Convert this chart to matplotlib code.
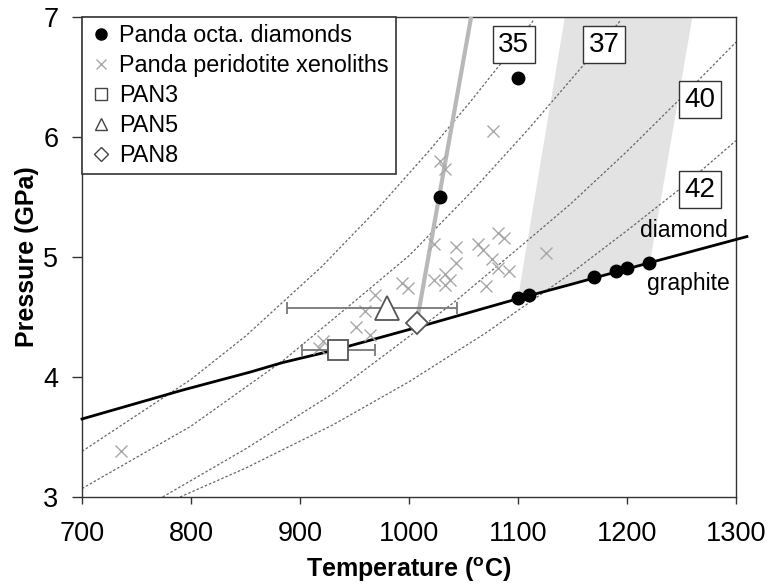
import numpy as np
import matplotlib
matplotlib.use('Agg')
import matplotlib.pyplot as plt
from matplotlib.lines import Line2D

plt.rcParams['font.family'] = ['Liberation Sans', 'DejaVu Sans']
plt.rcParams['mathtext.fontset'] = 'custom'
plt.rcParams['mathtext.rm'] = 'Liberation Sans'
plt.rcParams['mathtext.bf'] = 'Liberation Sans:bold'

# ---------------- data ----------------
diamond_T = [1100, 1028, 1100, 1110, 1170, 1190, 1200, 1220]
diamond_P = [6.49, 5.50, 4.66, 4.68, 4.83, 4.88, 4.91, 4.95]

xeno_T = [1028, 1033, 1077, 1023, 1043, 1043, 1063, 1068, 1082, 1087, 1076, 1082,
          1092, 1126, 1033, 1038, 1033, 1023, 1071, 994, 999, 969, 960, 951, 964,
          921, 917, 736]
xeno_P = [5.80, 5.73, 6.05, 5.11, 5.08, 4.95, 5.11, 5.06, 5.20, 5.16, 4.98, 4.91,
          4.88, 5.03, 4.86, 4.81, 4.77, 4.81, 4.76, 4.78, 4.74, 4.68, 4.55, 4.42,
          4.35, 4.30, 4.24, 3.38]

pan_names = ['PAN3', 'PAN5', 'PAN8']
pan_T = [935, 980, 1007]
pan_P = [4.225, 4.575, 4.45]
pan_err_lo = [33, 92, 0]
pan_err_hi = [34, 64, 0]

dg_T = [700, 792, 854, 884, 930, 1010, 1099, 1148, 1220, 1310]
dg_P = [3.65, 3.89, 4.04, 4.12, 4.22, 4.42, 4.65, 4.77, 4.95, 5.17]

trend_T = [1007, 1057]
trend_P = [4.45, 7.0]

band_T = [1100, 1143, 1260, 1221]
band_P = [4.66, 7.0, 7.0, 4.95]

geo_names = ['35', '37', '40', '42']
geo35_T = [700, 800, 850, 920, 970, 1019, 1056, 1085, 1114]
geo35_P = [3.38, 3.98, 4.34, 4.92, 5.39, 5.89, 6.29, 6.62, 6.97]
geo37_T = [700, 800, 885, 950, 1000, 1056, 1110, 1163, 1194]
geo37_P = [3.07, 3.59, 4.14, 4.63, 5.01, 5.53, 6.07, 6.63, 6.97]
geo40_T = [774, 850, 930, 980, 1041, 1100, 1148, 1200, 1249, 1300]
geo40_P = [3.00, 3.40, 3.86, 4.20, 4.62, 5.07, 5.44, 5.88, 6.32, 6.79]
geo42_T = [790, 850, 930, 1000, 1071, 1148, 1200, 1249, 1300]
geo42_P = [3.00, 3.24, 3.60, 3.96, 4.37, 4.86, 5.22, 5.57, 5.97]
geo_label_T = [1096, 1179, 1267, 1267]
geo_label_P = [6.77, 6.77, 6.31, 5.56]

# ---------------- figure ----------------
fig = plt.figure(figsize=(7.67, 5.84), dpi=100)
ax = fig.add_axes([0.1069, 0.149, 0.8527, 0.822])

ax.fill(band_T, band_P, color='#e3e3e3', lw=0, zorder=1)

for gT, gP in [(geo35_T, geo35_P), (geo37_T, geo37_P), (geo40_T, geo40_P), (geo42_T, geo42_P)]:
    ax.plot(gT, gP, color='#666666', lw=0.9, dashes=(2.0, 1.6), zorder=2)

ax.plot(trend_T, trend_P, color='#b8b8b8', lw=3, zorder=3, solid_capstyle='butt')

ax.plot(dg_T, dg_P, color='black', lw=2, zorder=4, clip_on=False)

ax.plot(xeno_T, xeno_P, ls='none', marker='x', ms=8, mew=1.0, color='#a8a8a8', zorder=5)

err_kw = dict(ecolor='#777777', elinewidth=1.3, capsize=4, capthick=1.3, ls='none', zorder=5)
ax.errorbar([pan_T[0]], [pan_P[0]], xerr=[[pan_err_lo[0]], [pan_err_hi[0]]], marker='s', ms=15,
            mfc='white', mec='#555555', mew=1.3, **err_kw)
ax.errorbar([pan_T[1]], [pan_P[1]], xerr=[[pan_err_lo[1]], [pan_err_hi[1]]], marker='^', ms=17,
            mfc='white', mec='#555555', mew=1.3, **err_kw)
ax.plot([pan_T[2]], [pan_P[2]], marker='D', ms=11, mfc='white', mec='#555555', mew=1.3,
        ls='none', zorder=6)

ax.plot(diamond_T, diamond_P, ls='none', marker='o', ms=9, color='black', zorder=7)

for name, tx, ty in zip(geo_names, geo_label_T, geo_label_P):
    ax.text(tx, ty, name, fontsize=20, ha='center', va='center', zorder=8,
            bbox=dict(boxstyle='square,pad=0.2', fc='white', ec='#333333', lw=1))

ax.text(1212, 5.22, 'diamond', fontsize=16.5, ha='left', va='center', zorder=8)
ax.text(1218, 4.78, 'graphite', fontsize=16.5, ha='left', va='center', zorder=8)

ax.set_xlim(700, 1300)
ax.set_ylim(3, 7)
ax.set_xticks([700, 800, 900, 1000, 1100, 1200, 1300])
ax.set_yticks([3, 4, 5, 6, 7])
ax.tick_params(axis='x', labelsize=19.5, length=5, width=1, pad=12, color='#333333')
ax.tick_params(axis='y', labelsize=19.5, length=7, width=1, pad=10, color='#333333')
for s in ax.spines.values():
    s.set_color('#333333')
    s.set_linewidth(1)

ax.set_xlabel(r'Temperature ($^{\mathbf{o}}$C)', fontsize=18, fontweight='bold', labelpad=6)
ax.set_ylabel('Pressure (GPa)', fontsize=18, fontweight='bold', labelpad=3)

handles = [
    Line2D([], [], ls='none', marker='o', ms=8, color='black'),
    Line2D([], [], ls='none', marker='x', ms=7.5, mew=1.0, color='#a8a8a8'),
    Line2D([], [], ls='none', marker='s', ms=8.5, mfc='white', mec='#444444', mew=1),
    Line2D([], [], ls='none', marker='^', ms=9, mfc='white', mec='#444444', mew=1),
    Line2D([], [], ls='none', marker='D', ms=7, mfc='white', mec='#444444', mew=1),
]
labels = ['Panda octa. diamonds', 'Panda peridotite xenoliths'] + pan_names
leg = ax.legend(handles, labels, loc='upper left', borderaxespad=0, fontsize=16.8,
                frameon=True, fancybox=False, framealpha=1, edgecolor='#333333',
                handlelength=1.0, handletextpad=0.3, labelspacing=0.3, borderpad=0.3)
leg.get_frame().set_linewidth(1.2)
leg.set_zorder(10)

fig.savefig('out.png', dpi=100)
